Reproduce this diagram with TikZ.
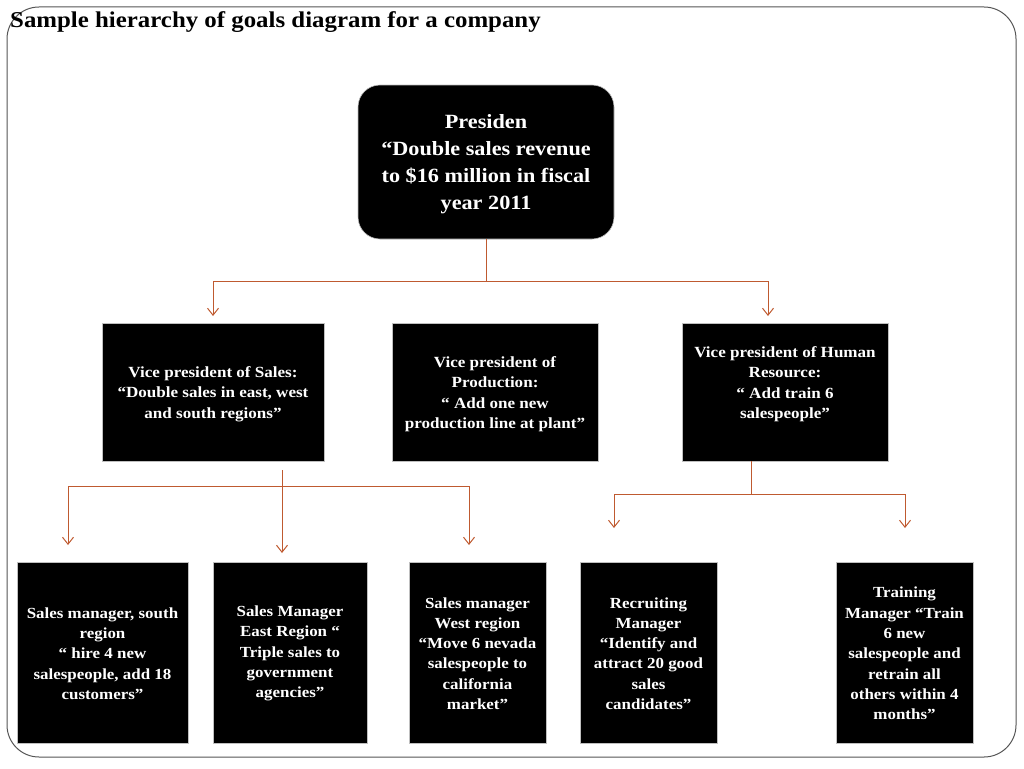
\documentclass[tikz,border=0pt]{standalone}
\usepackage{fontspec}
\setmainfont[FakeStretch=1.1]{Liberation Serif}
\usetikzlibrary{arrows.meta}
\definecolor{conn}{HTML}{BF5A30}
\definecolor{frame}{HTML}{555555}
\tikzset{
  box/.style={fill=black, draw=gray!50, line width=0.6pt, inner sep=0pt},
  rbox/.style={box, rounded corners=22pt},
  midtxt/.style={text=white, align=center, font=\bfseries\fontsize{15.5}{20.5}\selectfont, inner sep=0pt},
  lowtxt/.style={text=white, align=center, font=\bfseries\fontsize{15.4}{20.3}\selectfont, inner sep=0pt},
  toptxt/.style={text=white, align=center, font=\bfseries\fontsize{20.2}{27}\selectfont, inner sep=0pt},
  link/.style={draw=conn, line width=1pt},
  arr/.style={link, -{Straight Barb[length=7pt,width=11pt,line width=1pt]}},
}
\begin{document}
\begin{tikzpicture}[x=1pt,y=-1pt]
\useasboundingbox (0,0) rectangle (1024,768);
\draw[frame, line width=1pt, rounded corners=32pt] (7,7) rectangle (1016,757);
\node[anchor=base west, inner sep=0pt, font=\bfseries\fontsize{22.6}{26}\selectfont] (title) at (10,28) {Sample hierarchy of goals diagram for a company};

% boxes
\node[rbox, minimum width=256pt, minimum height=154pt] (pres) at (486,162) {};
\node[toptxt] (prestxt) at (486,164) {Presiden\\“Double sales revenue\\to \$16 million in fiscal\\year 2011};

\node[box, minimum width=222pt, minimum height=138pt] (vps) at (213,392) {};
\node[midtxt] (vpstxt) at (213,394) {Vice president of Sales:\\“Double sales in east, west\\and south regions”};

\node[box, minimum width=206pt, minimum height=138pt] (vpp) at (495,392) {};
\node[midtxt] (vpptxt) at (495,394) {Vice president of\\Production:\\“ Add one new\\production line at plant”};

\node[box, minimum width=206pt, minimum height=138pt] (vph) at (785,392) {};
\node[midtxt] (vphtxt) at (785,384) {Vice president of Human\\Resource:\\“ Add train 6\\salespeople”};

\node[box, minimum width=171pt, minimum height=181pt] (sms) at (102.5,652.5) {};
\node[lowtxt] (smstxt) at (102.5,653.5) {Sales manager, south\\region\\“ hire 4 new\\salespeople, add 18\\customers”};

\node[box, minimum width=154pt, minimum height=181pt] (sme) at (290,652.5) {};
\node[lowtxt] (smetxt) at (290,653.5) {Sales Manager\\East Region “\\Triple sales to\\government\\agencies”};

\node[box, minimum width=137pt, minimum height=181pt] (smw) at (477.5,652.5) {};
\node[lowtxt] (smwtxt) at (477.5,653.5) {Sales manager\\West region\\“Move 6 nevada\\salespeople to\\california\\market”};

\node[box, minimum width=137pt, minimum height=181pt] (rm) at (648.5,652.5) {};
\node[lowtxt] (rmtxt) at (648.5,653.5) {Recruiting\\Manager\\“Identify and\\attract 20 good\\sales\\candidates”};

\node[box, minimum width=137pt, minimum height=181pt] (tm) at (904.5,652.5) {};
\node[lowtxt] (tmtxt) at (904.5,653.5) {Training\\Manager “Train\\6 new\\salespeople and\\retrain all\\others within 4\\months”};

% connector points
\coordinate (j1) at (486,281);
\coordinate (t1) at (213,316);
\coordinate (t2) at (768,316);
\coordinate (s0) at (282,470);
\coordinate (j2) at (282,486);
\coordinate (t3) at (68,545);
\coordinate (t4) at (282,553);
\coordinate (t5) at (469,545);
\coordinate (h0) at (751,461);
\coordinate (j3) at (751,494);
\coordinate (t6) at (614,528);
\coordinate (t7) at (905,528);

\draw[link] (pres.south) -- (j1);
\draw[arr] (j1) -| (t1);
\draw[arr] (j1) -| (t2);

\draw[arr] (s0) -- (t4);
\draw[arr] (j2) -| (t3);
\draw[arr] (j2) -| (t5);

\draw[link] (h0) -- (j3);
\draw[arr] (j3) -| (t6);
\draw[arr] (j3) -| (t7);
\end{tikzpicture}
\end{document}
